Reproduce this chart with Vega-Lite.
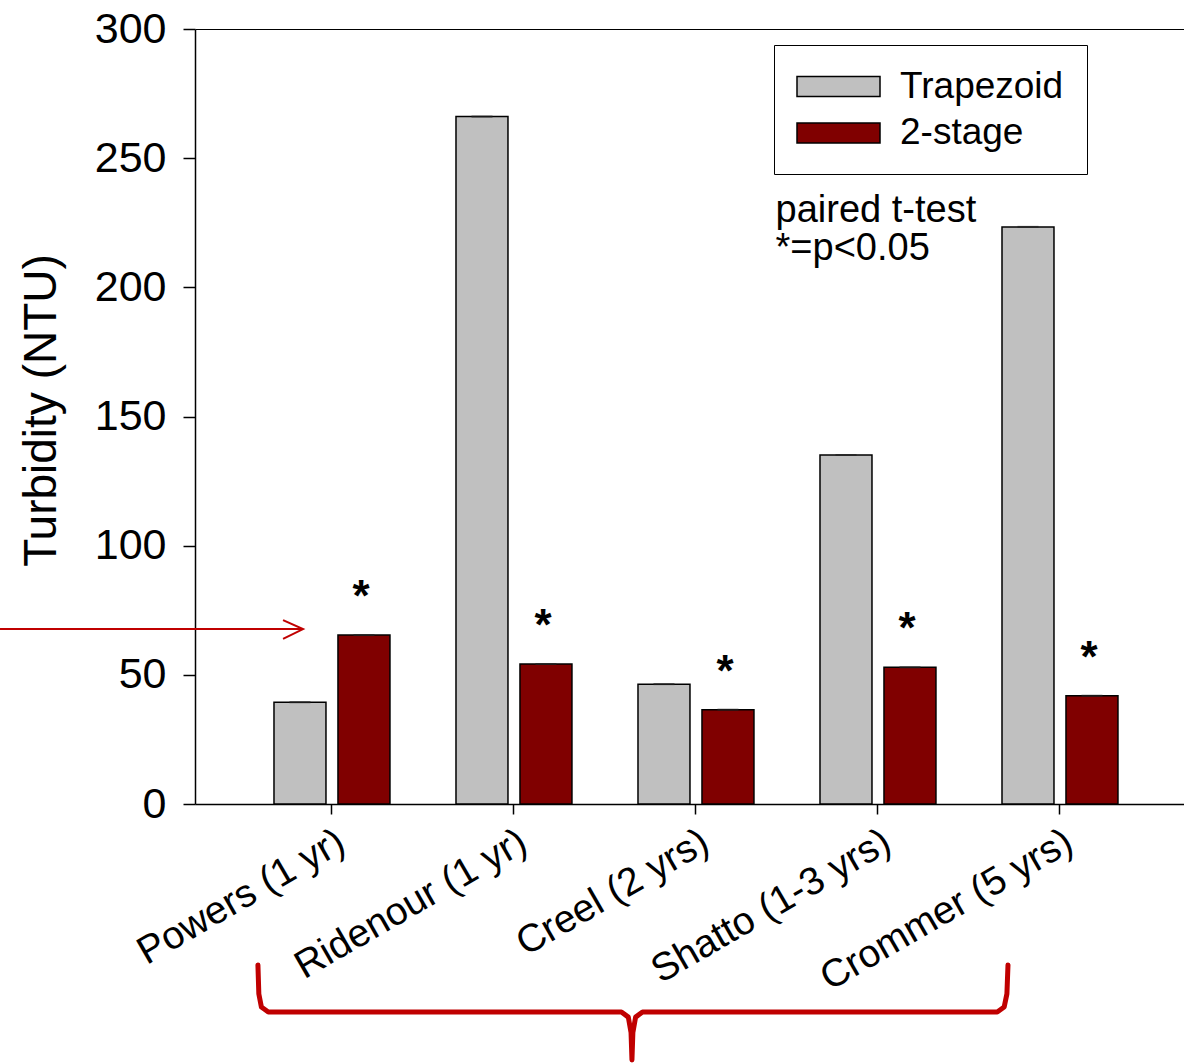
{
  "$schema": "https://vega.github.io/schema/vega-lite/v6.json",
  "width": 989,
  "height": 775,
  "autosize": {"type": "none"},
  "padding": {"left": 195, "top": 29, "right": 0, "bottom": 260},
  "background": "white",
  "config": {
    "view": {"stroke": null},
    "font": "Liberation Sans",
    "axis": {
      "domainColor": "black", "domainWidth": 1.5,
      "tickColor": "black", "tickWidth": 1.5,
      "labelColor": "black", "labelFont": "Liberation Sans",
      "titleColor": "black", "titleFont": "Liberation Sans", "titleFontWeight": "normal"
    },
    "legend": {
      "labelFont": "Liberation Sans"
    }
  },
  "datasets": {
    "bars": [
      {"site": "Powers (1 yr)", "type": "Trapezoid", "turbidity": 39.4, "sig": false},
      {"site": "Powers (1 yr)", "type": "2-stage", "turbidity": 65.4, "sig": true},
      {"site": "Ridenour (1 yr)", "type": "Trapezoid", "turbidity": 266.1, "sig": false},
      {"site": "Ridenour (1 yr)", "type": "2-stage", "turbidity": 54.2, "sig": true},
      {"site": "Creel (2 yrs)", "type": "Trapezoid", "turbidity": 46.4, "sig": false},
      {"site": "Creel (2 yrs)", "type": "2-stage", "turbidity": 36.5, "sig": true},
      {"site": "Shatto (1-3 yrs)", "type": "Trapezoid", "turbidity": 135.1, "sig": false},
      {"site": "Shatto (1-3 yrs)", "type": "2-stage", "turbidity": 52.9, "sig": true},
      {"site": "Crommer (5 yrs)", "type": "Trapezoid", "turbidity": 223.4, "sig": false},
      {"site": "Crommer (5 yrs)", "type": "2-stage", "turbidity": 41.9, "sig": true}
    ],
    "notes": [
      {"note": "paired t-test", "nx": 3.437, "ny": 225.3},
      {"note": "*=p<0.05", "nx": 3.437, "ny": 210.6}
    ],
    "arrow": [
      {"part": "shaft", "k": 1, "ax": -0.824, "ay": 67.7},
      {"part": "shaft", "k": 2, "ax": 0.841, "ay": 67.7},
      {"part": "head", "k": 1, "ax": 0.731, "ay": 71.2},
      {"part": "head", "k": 2, "ax": 0.841, "ay": 67.7},
      {"part": "head", "k": 3, "ax": 0.731, "ay": 63.9}
    ],
    "brace": [
      {"k": 1, "bx": 0.593, "by": -62.3},
      {"k": 2, "bx": 0.598, "by": -73.5},
      {"k": 3, "bx": 0.612, "by": -78.6},
      {"k": 4, "bx": 0.650, "by": -80.5},
      {"k": 5, "bx": 2.590, "by": -80.5},
      {"k": 6, "bx": 2.628, "by": -82.5},
      {"k": 7, "bx": 2.643, "by": -88.5},
      {"k": 8, "bx": 2.648, "by": -99.1},
      {"k": 9, "bx": 2.653, "by": -88.5},
      {"k": 10, "bx": 2.668, "by": -82.5},
      {"k": 11, "bx": 2.706, "by": -80.5},
      {"k": 12, "bx": 4.655, "by": -80.5},
      {"k": 13, "bx": 4.693, "by": -78.6},
      {"k": 14, "bx": 4.708, "by": -73.5},
      {"k": 15, "bx": 4.714, "by": -62.3}
    ]
  },
  "layer": [
    {
      "data": {"name": "bars"},
      "encoding": {
        "x": {
          "field": "site", "type": "nominal", "sort": null,
          "scale": {"paddingInner": 0, "paddingOuter": 0.217, "align": 0.582},
          "axis": {
            "title": null, "labelAngle": -30, "labelFontSize": 39,
            "tickSize": 10, "labelPadding": 8, "labelLimit": 0
          }
        },
        "xOffset": {
          "field": "type", "type": "nominal", "sort": ["Trapezoid", "2-stage"],
          "scale": {"paddingInner": 0.1875, "paddingOuter": 0.516}
        },
        "y": {
          "field": "turbidity", "type": "quantitative",
          "scale": {"domain": [0, 300], "nice": false},
          "axis": {
            "title": "Turbidity (NTU)", "titleFontSize": 46,
            "titleAngle": -90, "titleX": -140, "titleY": 381,
            "titleBaseline": "alphabetic", "titleAlign": "center",
            "values": [0, 50, 100, 150, 200, 250, 300],
            "labelFontSize": 43, "tickSize": 12, "labelPadding": 17,
            "grid": true, "gridColor": "black",
            "gridOpacity": {"expr": "datum.value == 300 ? 1 : 0"}
          }
        }
      },
      "layer": [
        {
          "mark": {"type": "bar", "stroke": "black", "strokeWidth": 1.5},
          "encoding": {
            "color": {
              "field": "type", "type": "nominal",
              "scale": {"domain": ["Trapezoid", "2-stage"], "range": ["#C0C0C0", "#800000"]},
              "legend": {
                "title": null, "orient": "none", "legendX": 579, "legendY": 16,
                "symbolType": "M-1.85,-1H6.45V1H-1.85Z", "symbolSize": 400,
                "symbolStrokeColor": "black", "symbolOpacity": 1,
                "labelFontSize": 37, "labelColor": "black", "labelOffset": 66, "labelLimit": 0,
                "padding": 23, "rowPadding": 8.5,
                "strokeColor": "black", "fillColor": "white"
              }
            }
          }
        },
        {
          "mark": {"type": "tick", "color": "#222222", "thickness": 2, "size": 21},
          "encoding": {}
        },
        {
          "transform": [{"filter": "datum.sig"}],
          "mark": {"type": "text", "fontSize": 44, "fontWeight": "bold", "color": "black", "baseline": "alphabetic", "align": "center", "dx": -3, "dy": -24},
          "encoding": {"text": {"value": "*"}}
        }
      ]
    },
    {
      "layer": [
        {
          "data": {"name": "notes"},
          "mark": {"type": "text", "fontSize": 38, "color": "black", "align": "left", "baseline": "alphabetic"},
          "encoding": {
            "x": {"field": "nx", "type": "quantitative", "scale": {"domain": [0.2473, 5.681], "nice": false, "zero": false}, "axis": null},
            "y": {"field": "ny", "type": "quantitative", "scale": {"domain": [0, 300], "nice": false}, "axis": null},
            "text": {"field": "note"}
          }
        },
        {
          "data": {"name": "arrow"},
          "mark": {"type": "line", "color": "#C00000", "strokeWidth": 2, "clip": false},
          "encoding": {
            "x": {"field": "ax", "type": "quantitative", "scale": {"domain": [0.2473, 5.681], "nice": false, "zero": false}, "axis": null},
            "y": {"field": "ay", "type": "quantitative", "scale": {"domain": [0, 300], "nice": false}, "axis": null},
            "detail": {"field": "part"},
            "order": {"field": "k"}
          }
        },
        {
          "data": {"name": "brace"},
          "mark": {"type": "line", "color": "#C00000", "strokeWidth": 5, "strokeJoin": "round", "strokeCap": "round", "clip": false},
          "encoding": {
            "x": {"field": "bx", "type": "quantitative", "scale": {"domain": [0.2473, 5.681], "nice": false, "zero": false}, "axis": null},
            "y": {"field": "by", "type": "quantitative", "scale": {"domain": [0, 300], "nice": false}, "axis": null},
            "order": {"field": "k"}
          }
        }
      ]
    }
  ],
  "resolve": {"scale": {"x": "independent", "y": "independent"}}
}
